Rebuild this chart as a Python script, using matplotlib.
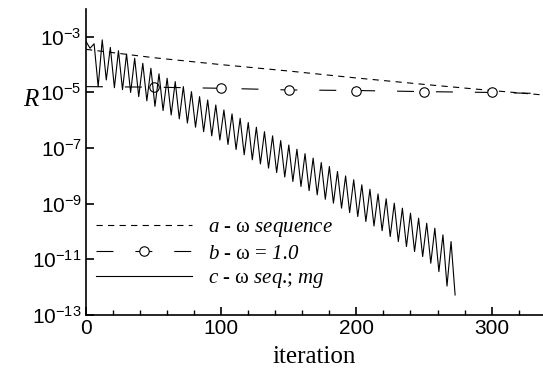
import matplotlib
matplotlib.use("Agg")
import matplotlib.pyplot as plt
import numpy as np
from matplotlib.ticker import FixedLocator, MultipleLocator, NullLocator, FuncFormatter

plt.rcParams['mathtext.fontset'] = 'custom'
plt.rcParams['mathtext.rm'] = 'Liberation Serif'
plt.rcParams['mathtext.it'] = 'Liberation Serif:italic'
plt.rcParams['mathtext.cal'] = 'Liberation Serif:italic'
plt.rcParams['mathtext.sf'] = 'Liberation Sans'
plt.rcParams['lines.scale_dashes'] = False

# ---- data (log10 of residual R) ----
a_iter = [0, 50, 100, 150, 200, 250, 300, 338]
a_log = [-3.45, -3.75, -4.00, -4.23, -4.48, -4.71, -4.93, -5.09]

b_iter = [0, 50, 100, 150, 200, 250, 300, 338]
b_log = [-4.79, -4.81, -4.85, -4.91, -4.93, -4.97, -5.00, -5.04]

c_iter = [0, 3, 6, 9, 12, 15, 18, 21, 24, 27, 30, 33, 36, 39, 42, 45, 48, 51,
          54, 57, 60, 63, 66, 69, 72, 75, 78, 81, 84, 87, 90, 93, 96, 99, 102,
          105, 108, 111, 114, 117, 120, 123, 126, 129, 132, 135, 138, 141, 144,
          147, 150, 153, 156, 159, 162, 165, 168, 171, 174, 177, 180, 183, 186,
          189, 192, 195, 198, 201, 204, 207, 210, 213, 216, 219, 222, 225, 228,
          231, 234, 237, 240, 243, 246, 249, 252, 255, 258, 261, 264, 267, 270, 273]
c_log = [-3.17, -3.41, -3.25, -4.79, -3.11, -4.55, -3.38, -4.83, -3.50, -4.90,
         -3.62, -5.00, -3.77, -5.15, -3.95, -5.30, -4.13, -5.50, -4.33, -5.65,
         -4.49, -5.81, -4.61, -5.95, -4.79, -6.10, -4.97, -6.25, -5.15, -6.41,
         -5.27, -6.56, -5.45, -6.71, -5.63, -6.87, -5.77, -7.05, -5.93, -7.24,
         -6.08, -7.42, -6.25, -7.57, -6.41, -7.72, -6.56, -7.88, -6.73, -8.04,
         -6.89, -8.20, -7.04, -8.38, -7.20, -8.53, -7.36, -8.68, -7.52, -8.84,
         -7.66, -8.98, -7.84, -9.16, -8.00, -9.32, -8.14, -9.46, -8.32, -9.64,
         -8.48, -9.80, -8.65, -9.97, -8.82, -10.18, -8.98, -10.36, -9.16, -10.54,
         -9.34, -10.72, -9.52, -10.90, -9.70, -11.14, -9.88, -11.44, -10.12, -11.96,
         -10.36, -12.28]

y_ticks_exp = [-13, -11, -9, -7, -5, -3]
x_major = 100
x_minor = 20

labels = [r'$\mathcal{a}$ - $\mathrm{\omega}$ $\mathcal{sequence}$',
          r'$\mathcal{b}$ - $\mathrm{\omega}$ = $\mathcal{1.0}$',
          r'$\mathcal{c}$ - $\mathrm{\omega}$ $\mathcal{seq}$.; $\mathcal{mg}$']

# ---- figure ----
fig = plt.figure(figsize=(5.43, 3.70), dpi=100)
ax = fig.add_axes([86 / 543, 55 / 370, 457 / 543, 306 / 370])
ax.set_yscale('log')
ax.set_xlim(0, 338)
ax.set_ylim(1e-13, 1e-2)

lw = 0.8
ax.plot(a_iter, 10 ** np.array(a_log), color='black', lw=lw, dashes=(4.5, 3.8), label=labels[0])
ax.plot(b_iter, 10 ** np.array(b_log), color='black', lw=lw, dashes=(12.2, 15.8),
        marker='o', ms=6.8, mfc='white', mec='black', mew=0.8,
        markevery=[1, 2, 3, 4, 5, 6], label=labels[1])
ax.plot(c_iter, 10 ** np.array(c_log), color='black', lw=lw, label=labels[2])

for s in ['top', 'right']:
    ax.spines[s].set_visible(False)
for s in ['left', 'bottom']:
    ax.spines[s].set_linewidth(1.2)

ax.yaxis.set_major_locator(FixedLocator([10.0 ** e for e in y_ticks_exp]))
ax.yaxis.set_minor_locator(NullLocator())
ax.yaxis.set_major_formatter(FuncFormatter(
    lambda v, p: r'$\mathsf{10}^{\mathsf{%d}}$' % int(round(np.log10(v)))))
ax.xaxis.set_major_locator(MultipleLocator(x_major))
ax.xaxis.set_minor_locator(MultipleLocator(x_minor))

ax.tick_params(which='major', direction='in', length=6, width=1.2, labelsize=15, pad=3)
ax.tick_params(which='minor', direction='in', length=3.5, width=1.0)
ax.tick_params(axis='y', which='minor', length=0)
for t in ax.get_xticklabels() + ax.get_yticklabels():
    t.set_family('Liberation Sans')

leg = ax.legend(loc='center left', bbox_to_anchor=(0.022, 0.2), frameon=False,
                prop={'family': 'Liberation Serif', 'size': 15},
                handlelength=4.6, handletextpad=0.75, labelspacing=0.25,
                borderpad=0, borderaxespad=0, numpoints=1)

fig.text(31 / 543, 1 - 100 / 370, 'R', family='Liberation Serif', style='italic',
         size=18, ha='center', va='center')
fig.text(314.5 / 543, 1 - 363 / 370, 'iteration', family='Liberation Serif',
         size=18, ha='center', va='baseline')

fig.savefig('out.png', dpi=100)
